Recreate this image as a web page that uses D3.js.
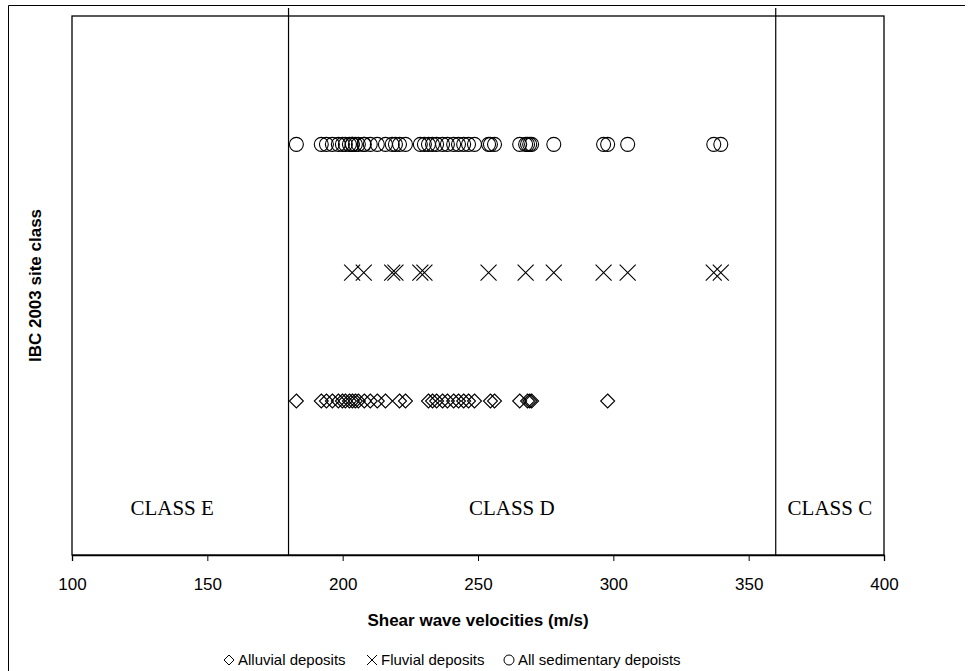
<!DOCTYPE html>
<html><head><meta charset="utf-8">
<script src="https://cdn.jsdelivr.net/npm/d3@7"></script>
<style>body{margin:0;background:#fff}svg{display:block}</style>
</head><body><svg id="c" width="969" height="671"></svg>
<script>
const alluvial = [182.9,192.1,194.0,196.2,198.4,199.9,201.0,202.5,203.6,204.7,205.8,208.0,210.2,212.8,215.8,221.0,223.2,231.7,233.2,234.7,236.9,238.7,241.0,242.8,244.7,246.5,248.7,254.6,256.1,265.4,268.3,269.1,269.8,297.9];
const fluvial = [203.5,207.8,218.3,219.5,228.7,230.2,253.9,267.6,278.0,296.4,305.3,337.1,339.7];
const allSed = [182.9,192.1,194.0,196.2,198.4,199.9,201.0,202.5,203.5,203.6,204.7,205.8,207.8,208.0,210.2,212.8,215.8,218.3,219.5,221.0,223.2,228.7,230.2,231.7,233.2,234.7,236.9,238.7,241.0,242.8,244.7,246.5,248.7,253.9,254.6,256.1,265.4,267.6,268.3,269.1,269.8,278.0,296.4,297.9,305.3,337.1,339.7];
const rowLevels = [1.2, 2.2, 3.2]; // alluvial, fluvial, all
const xTicks = [100,150,200,250,300,350,400];
const classBounds = [180, 360];
const classLabels = [{name:"CLASS E", v:137},{name:"CLASS D", v:262.5},{name:"CLASS C", v:380}];
const legendNames = ["Alluvial deposits","Fluvial deposits","All sedimentary depoists"];

const svg = d3.select("#c");
const L=72, R=884, T=16, B=555;
const x = d3.scaleLinear().domain([100,400]).range([L,R]);
const y = d3.scaleLinear().domain([0,4.2]).range([B,T]);

svg.append("path").attr("d",`M8.5,680 V5.5 H965`).attr("fill","none").attr("stroke","#000").attr("stroke-width",1);

svg.append("rect").attr("x",L).attr("y",T).attr("width",R-L).attr("height",B-T)
  .attr("fill","none").attr("stroke","#000").attr("stroke-width",1.3);

svg.selectAll("line.cb").data(classBounds).enter().append("line")
  .attr("x1",d=>x(d)).attr("x2",d=>x(d)).attr("y1",8).attr("y2",B)
  .attr("stroke","#000").attr("stroke-width",1.2);

const xa = svg.append("g").attr("transform",`translate(0,${B})`)
  .call(d3.axisBottom(x).tickValues(xTicks).tickSize(6).tickPadding(17).tickFormat(d3.format("d")));
xa.select(".domain").attr("stroke","#000").attr("stroke-width",1.3);
xa.selectAll("text").attr("font-family","Liberation Sans, Arial, sans-serif").attr("font-size",17).attr("fill","#000");

svg.append("text").attr("x",(L+R)/2).attr("y",626).attr("text-anchor","middle")
  .attr("font-family","Liberation Sans, Arial, sans-serif").attr("font-weight","bold").attr("font-size",17)
  .text("Shear wave velocities (m/s)");
svg.append("text").attr("transform",`translate(41,${(T+B)/2}) rotate(-90)`).attr("text-anchor","middle")
  .attr("font-family","Liberation Sans, Arial, sans-serif").attr("font-weight","bold").attr("font-size",17)
  .text("IBC 2003 site class");

svg.selectAll("text.cl").data(classLabels).enter().append("text")
  .attr("x",d=>x(d.v)).attr("y",515).attr("text-anchor","middle")
  .attr("font-family","Liberation Serif, Times New Roman, serif").attr("font-size",21)
  .text(d=>d.name);

const sym = {
  diamond: s=>`M0,${-s}L${s},0L0,${s}L${-s},0Z`,
  cross: s=>`M${-s},${-s}L${s},${s}M${-s},${s}L${s},${-s}`,
  circle: s=>`M${s},0A${s},${s} 0 1,1 ${-s},0A${s},${s} 0 1,1 ${s},0`
};
const series = [
  {data:alluvial, lvl:rowLevels[0], shape:"diamond", s:7},
  {data:fluvial, lvl:rowLevels[1], shape:"cross", s:8},
  {data:allSed, lvl:rowLevels[2], shape:"circle", s:7}
];
series.forEach(sr=>{
  svg.append("g").selectAll("path").data(sr.data).enter().append("path")
    .attr("transform",d=>`translate(${x(d)},${y(sr.lvl)})`)
    .attr("d",sym[sr.shape](sr.s)).attr("fill","none").attr("stroke","#000").attr("stroke-width",1.1);
});

const lg = svg.append("g").attr("transform","translate(0,665)");
const items = [
  {shape:"diamond", s:5, name:legendNames[0], x:229},
  {shape:"cross", s:5, name:legendNames[1], x:372},
  {shape:"circle", s:5, name:legendNames[2], x:509}
];
items.forEach(it=>{
  lg.append("path").attr("transform",`translate(${it.x},-5)`).attr("d",sym[it.shape](it.s))
    .attr("fill","none").attr("stroke","#000").attr("stroke-width",1);
  lg.append("text").attr("x",it.x+9).attr("y",0).attr("font-family","Liberation Sans, Arial, sans-serif")
    .attr("font-size",15).text(it.name);
});
</script></body></html>
